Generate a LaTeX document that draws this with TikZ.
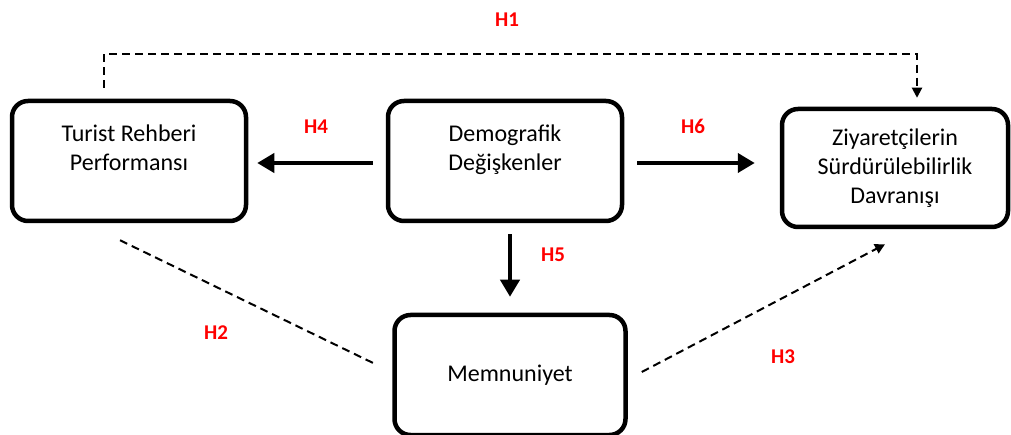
\documentclass[tikz,border=0pt]{standalone}
\usepackage{fontspec}
\setmainfont{Carlito}
\usetikzlibrary{arrows.meta}
\definecolor{hypred}{rgb}{1,0,0}

\begin{document}
\begin{tikzpicture}[x=1pt, y=-1pt, box/.style = {shape=rectangle, draw, line width=4.5pt, rounded corners=16pt, align=center, fill=white, font=\fontsize{24}{29}\selectfont, minimum width=234pt, minimum height=120pt}, raised/.style = {text depth=26pt}, hyp/.style = {text=hypred, font=\fontsize{21}{24}\selectfont\bfseries}, direct/.style = {line width=4pt, -{Triangle[length=17pt, width=19pt]}}, indirect/.style = {line width=2pt, dash pattern=on 8pt off 5pt, -{Triangle[length=10pt, width=10pt]}}]
	\useasboundingbox (0,0) rectangle (1011,435);
	\node[box, raised] (rehber) at (129,161) {Turist Rehberi\\Performansı};
	\node[box, raised] (demog) at (505,161) {Demografik\\Değişkenler};
	\node[box, minimum width=226pt, minimum height=118pt] (davranis) at (895,168) {Ziyaretçilerin\\Sürdürülebilirlik\\Davranışı};
	\node[box, minimum width=231pt] (memnun) at (510,375) {Memnuniyet};
	% hypothesis labels
	\node[hyp] (h1) at (507,20) {H1};
	\node[hyp] (h2) at (216,333) {H2};
	\node[hyp] (h3) at (783,357) {H3};
	\node[hyp] (h4) at (316,127) {H4};
	\node[hyp] (h5) at (553,255) {H5};
	\node[hyp] (h6) at (693,126) {H6};
	% arrows
	\draw[direct, shorten <=13pt, shorten >=9pt] ([yshift=-2pt]demog.west) -- ([yshift=-2pt]rehber.east);
	\draw[direct, shorten <=13pt, shorten >=25pt] ([yshift=-2pt]demog.east) -- ([yshift=-2pt]demog.east -| davranis.west);
	\draw[direct, shorten <=11pt, shorten >=16pt] (memnun.north |- demog.south) -- (memnun.north);
	\draw[indirect, shorten >=9pt] ([xshift=-25pt, yshift=11pt]rehber.north) -- ++(0,-34) -| ([xshift=22pt]davranis.north);
	\draw[indirect, -] ([xshift=-9pt, yshift=-17pt]rehber.south) -- ([xshift=-15pt, yshift=10pt]memnun.west);
	\draw[indirect] ([xshift=14pt, yshift=3pt]memnun.east) -- ([xshift=-10pt, yshift=-15pt]davranis.south);
\end{tikzpicture}
\end{document}
